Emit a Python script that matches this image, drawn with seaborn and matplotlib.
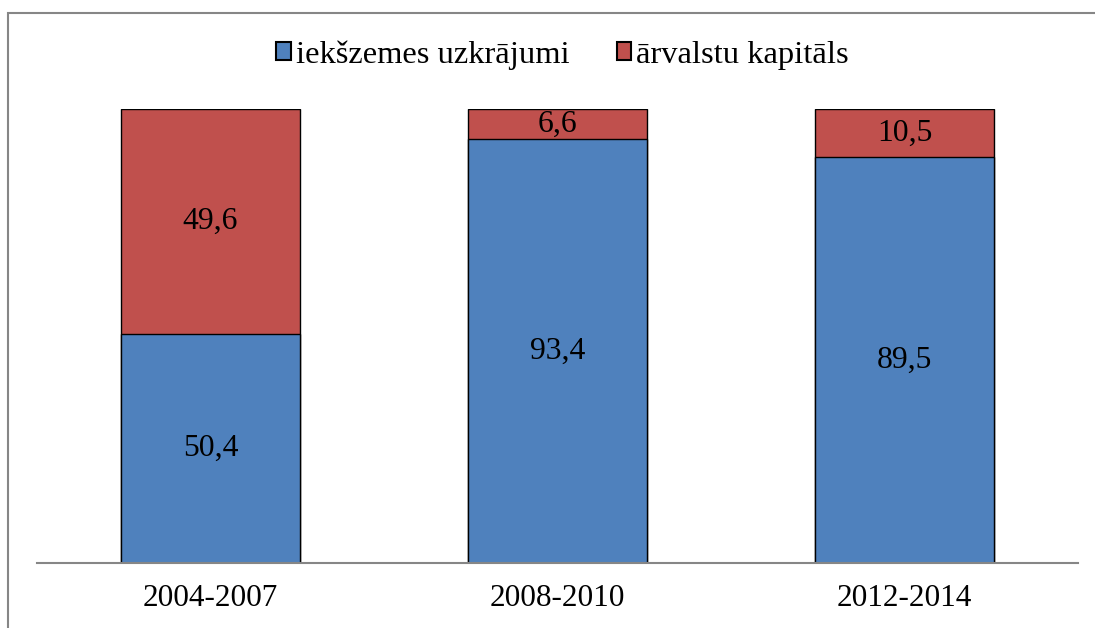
import pandas as pd
import matplotlib.pyplot as plt
import seaborn as sns
from matplotlib.patches import Patch, Rectangle

# Data
periods = ["2004-2007", "2008-2010", "2012-2014"]
domestic = [50.4, 93.4, 89.5]
foreign = [49.6, 6.6, 10.5]
labels = ["iekšzemes uzkrājumi", "ārvalstu kapitāls"]

blue = "#4F81BD"
red = "#C0504D"

sns.set_style("white")
plt.rcParams['font.family'] = ['Liberation Serif', 'DejaVu Serif']
plt.rcParams['text.color'] = 'black'
plt.rcParams['xtick.color'] = 'black'

df = pd.DataFrame({"period": periods, "domestic": domestic, "foreign": foreign})
df["total"] = df["domestic"] + df["foreign"]

fig = plt.figure(figsize=(10.95, 6.28), dpi=100)
ax = fig.add_axes([37 / 1095, 1 - 563 / 628, 1041 / 1095, 454 / 628])

# red on top: draw totals first, then domestic over them
sns.barplot(data=df, x="period", y="total", color=red, width=0.513,
            edgecolor="black", linewidth=1, saturation=1, ax=ax)
sns.barplot(data=df, x="period", y="domestic", color=blue, width=0.513,
            edgecolor="black", linewidth=1, saturation=1, ax=ax)

for i, row in df.iterrows():
    ax.text(i, row["domestic"] / 2, f"{row['domestic']:.1f}".replace(".", ","),
            ha="center", va="center", fontsize=22.8, color="black")
    ax.text(i, row["domestic"] + row["foreign"] / 2, f"{row['foreign']:.1f}".replace(".", ","),
            ha="center", va="center", fontsize=22.8, color="black")

ax.set_xlim(-0.5, 2.5)
ax.set_ylim(0, 100)
ax.set_xlabel("")
ax.set_ylabel("")
ax.set_yticks([])
ax.tick_params(axis="x", length=0, labelsize=22.5, labelcolor="black", pad=15)
for s in ["top", "right", "left"]:
    ax.spines[s].set_visible(False)
ax.spines["bottom"].set_color("#868686")
ax.spines["bottom"].set_linewidth(1.5)

handles = [Patch(facecolor=blue, edgecolor="black", linewidth=1.5),
           Patch(facecolor=red, edgecolor="black", linewidth=1.5)]
fig.legend(handles, labels, loc="center", bbox_to_anchor=(562.5 / 1095, 1 - 55 / 628),
           ncol=2, frameon=False, fontsize=23.4, handlelength=0.45, handleheight=0.45,
           handletextpad=0.15, columnspacing=1.45, labelcolor="black")

# outer chart border (only top and left visible)
fig.patches.append(Rectangle((8 / 1095, -0.1), 1.2, 1 - 13 / 628 + 0.1,
                             transform=fig.transFigure, fill=False,
                             edgecolor="#868686", linewidth=1.5))

fig.savefig("out.png", dpi=100)
